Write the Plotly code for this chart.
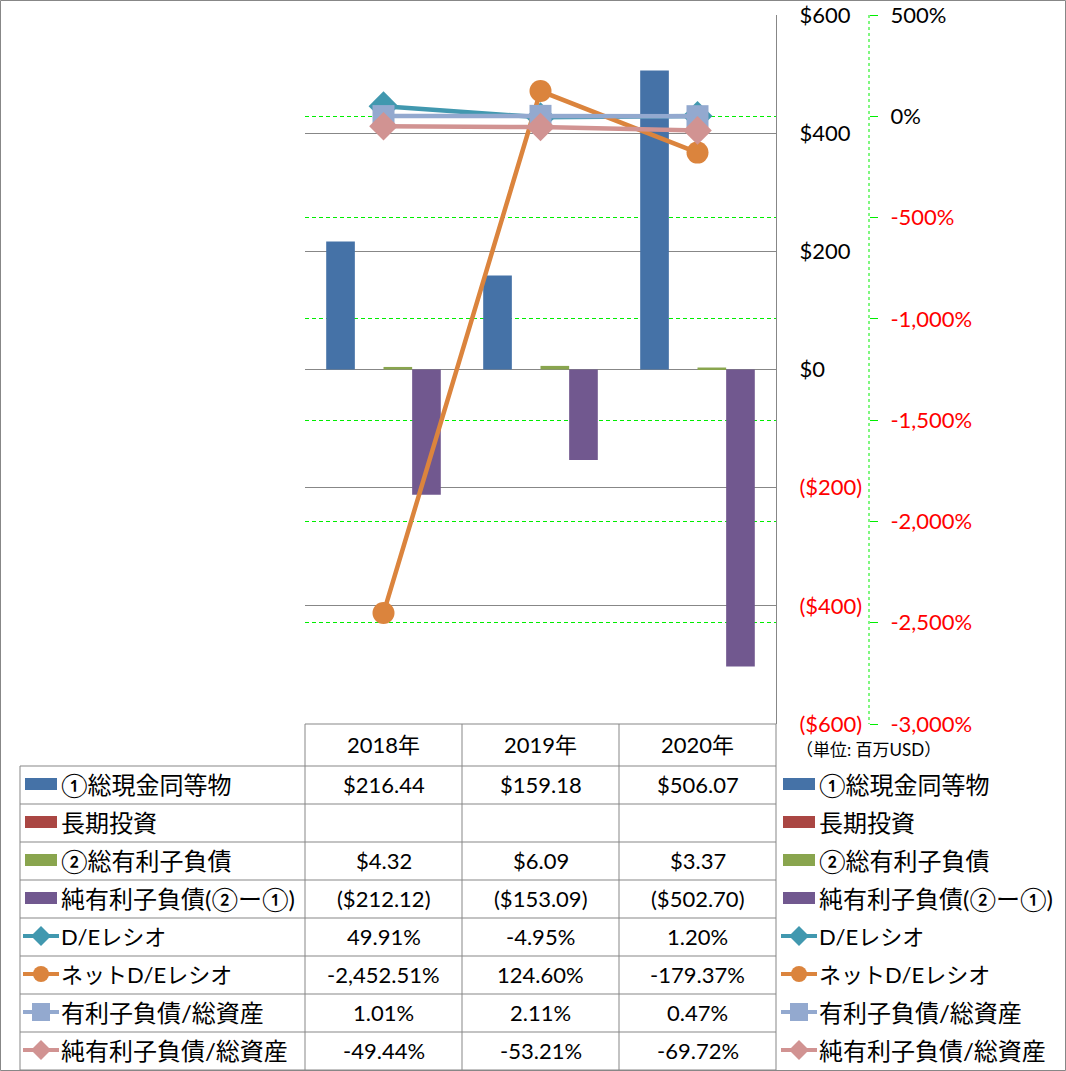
import plotly.graph_objects as go

W, H = 1066, 1071

# ---------------- data ----------------
years = ["2018年", "2019年", "2020年"]
cash = [216.44, 159.18, 506.07]
lt_invest = [None, None, None]
debt = [4.32, 6.09, 3.37]
net_debt = [-212.12, -153.09, -502.70]
de_ratio = [49.91, -4.95, 1.20]
net_de_ratio = [-2452.51, 124.60, -179.37]
debt_assets = [1.01, 2.11, 0.47]
net_debt_assets = [-49.44, -53.21, -69.72]

bar_names = ["①総現金同等物", "長期投資", "②総有利子負債", "純有利子負債(②ー①)"]
line_names = ["D/Eレシオ", "ネットD/Eレシオ", "有利子負債/総資産", "純有利子負債/総資産"]
usd_ticks = [-600, -400, -200, 0, 200, 400, 600]
pct_ticks = [-3000, -2500, -2000, -1500, -1000, -500, 0, 500]
unit_label = "（単位: 百万USD）"

# ---------------- styles ----------------
bar_colors = ["#4572A7", "#AA4643", "#89A54E", "#71588F"]
line_colors = ["#4198AF", "#DB843D", "#93A9CF", "#D19392"]
line_symbols = ["diamond", "circle", "square", "diamond"]
line_sizes = [23, 22, 22, 22]
label_sizes = [24, 24, 24, 24, 22, 22, 24, 24]
FONT = "Lato, 'Noto Sans CJK JP', sans-serif"
GRAY = "#878787"
RED = "#FF0000"


def fx(px):
    return px / W


def fy(py):
    return 1 - py / H


def fmt_usd(v, dec=2):
    if v is None:
        return ""
    s = f"${abs(v):,.{dec}f}"
    return f"({s})" if v < 0 else s


def fmt_pct(v, dec=2):
    return f"{v:,.{dec}f}%"


def red(t):
    return f'<span style="color:{RED}">{t}</span>'


usd_text = [red(fmt_usd(v, 0)) if v < 0 else fmt_usd(v, 0) for v in usd_ticks]
pct_text = [red(fmt_pct(v, 0)) if v < 0 else fmt_pct(v, 0) for v in pct_ticks]

fig = go.Figure()
bar_series = [cash, lt_invest, debt, net_debt]
for name, vals, col in zip(bar_names, bar_series, bar_colors):
    fig.add_trace(go.Bar(x=years, y=vals, name=name, marker=dict(color=col, line=dict(width=0)),
                         yaxis="y"))
line_series = [de_ratio, net_de_ratio, debt_assets, net_debt_assets]
for name, vals, col, sym, sz in zip(line_names, line_series, line_colors, line_symbols, line_sizes):
    fig.add_trace(go.Scatter(x=years, y=vals, name=name, mode="lines+markers", yaxis="y2",
                             line=dict(color=col, width=4.5),
                             marker=dict(symbol=sym, size=sz, color=col, line=dict(width=0)),
                             cliponaxis=False))

PX0, PX1, PY0, PY1 = 305, 776, 15, 724

fig.update_layout(
    width=W, height=H, margin=dict(l=0, r=0, t=0, b=0, autoexpand=False),
    paper_bgcolor="white", plot_bgcolor="rgba(0,0,0,0)",
    barmode="group", bargap=0.27, bargroupgap=0, showlegend=False,
    font=dict(family=FONT, size=22, color="black"),
    xaxis=dict(domain=[fx(PX0), fx(PX1)], showticklabels=False, showgrid=False, zeroline=False,
               showline=False, ticks="", automargin=False),
    yaxis=dict(domain=[fy(PY1), fy(PY0)], range=[-600, 600], side="right",
               tickvals=usd_ticks, ticktext=usd_text, showgrid=True, gridcolor=GRAY, gridwidth=1,
               zeroline=False, showline=True, linecolor=GRAY, linewidth=1, ticks="",
               ticklabelstandoff=18, automargin=False,
               tickfont=dict(family=FONT, size=22, color="black")),
    yaxis2=dict(overlaying="y", anchor="free", position=fx(869), side="right",
                range=[-3000, 500], tickvals=pct_ticks, ticktext=pct_text,
                showgrid=True, gridcolor="#00EE00", griddash="4px,3px", gridwidth=1,
                zeroline=False, showline=False, ticks="outside", ticklen=8, tickcolor="#00EE00",
                ticklabelstandoff=8, automargin=False,
                tickfont=dict(family=FONT, size=22, color="black")),
)

shapes = []
ann = []


def hline(y, x0, x1, color=GRAY, width=1):
    shapes.append(dict(type="line", xref="paper", yref="paper", x0=fx(x0), x1=fx(x1),
                       y0=fy(y), y1=fy(y), line=dict(color=color, width=width)))


def vline(x, y0, y1, color=GRAY, width=1, dash="solid"):
    shapes.append(dict(type="line", xref="paper", yref="paper", x0=fx(x), x1=fx(x),
                       y0=fy(y0), y1=fy(y1), line=dict(color=color, width=width, dash=dash)))


def text(x, y, t, anchor="center", size=22, color="black"):
    ann.append(dict(xref="paper", yref="paper", x=fx(x), y=fy(y), text=t, showarrow=False,
                    xanchor=anchor, yanchor="middle", font=dict(family=FONT, size=size, color=color)))


# outer border
shapes.append(dict(type="rect", xref="paper", yref="paper", x0=fx(0.5), x1=fx(W - 0.5),
                   y0=fy(0.5), y1=fy(H - 0.5), line=dict(color=GRAY, width=1)))

# secondary axis dotted line
vline(869, PY0, PY1, color="#00EE00", width=1, dash="dot")

# data table grid
col_x = [305, 462, 619, 776]
row_y = [766 + 38 * i for i in range(9)]
hline(724, 305, 776)
for y in row_y:
    hline(y, 20, 776)
vline(20, 766, 1070)
for x in col_x:
    vline(x, 724, 1070)

col_c = [(col_x[i] + col_x[i + 1]) / 2 for i in range(3)]
for c, yr in zip(col_c, years):
    text(c, 744, yr)

all_names = bar_names + line_names
row_vals = [[fmt_usd(v) for v in s] for s in bar_series] + \
           [[fmt_pct(v) for v in s] for s in line_series]
for i, (name, vals) in enumerate(zip(all_names, row_vals)):
    cy = row_y[i] + 18
    text(59, cy, name, anchor="left", size=label_sizes[i])
    text(817, cy, name, anchor="left", size=label_sizes[i])
    for c, v in zip(col_c, vals):
        text(c, cy, v)

text(794, 749, unit_label, anchor="left", size=17)


# legend keys
def key_bar(xc, cy, col):
    shapes.append(dict(type="rect", xref="paper", yref="paper", x0=fx(xc - 16), x1=fx(xc + 16),
                       y0=fy(cy - 6), y1=fy(cy + 6), fillcolor=col, line=dict(width=0)))


def key_line(xc, cy, col, sym):
    shapes.append(dict(type="line", xref="paper", yref="paper", x0=fx(xc - 18), x1=fx(xc + 18),
                       y0=fy(cy), y1=fy(cy), line=dict(color=col, width=4)))
    if sym == "diamond":
        path = (f"M {fx(xc - 10)} {fy(cy)} L {fx(xc)} {fy(cy - 10)} L {fx(xc + 10)} {fy(cy)} "
                f"L {fx(xc)} {fy(cy + 10)} Z")
        shapes.append(dict(type="path", xref="paper", yref="paper", path=path, fillcolor=col,
                           line=dict(width=0)))
    elif sym == "circle":
        shapes.append(dict(type="circle", xref="paper", yref="paper", x0=fx(xc - 8), x1=fx(xc + 8),
                           y0=fy(cy - 8), y1=fy(cy + 8), fillcolor=col, line=dict(width=0)))
    else:
        shapes.append(dict(type="rect", xref="paper", yref="paper", x0=fx(xc - 9), x1=fx(xc + 9),
                           y0=fy(cy - 9), y1=fy(cy + 9), fillcolor=col, line=dict(width=0)))


for i in range(4):
    cy = row_y[i] + 18
    key_bar(41, cy, bar_colors[i])
    key_bar(799, cy, bar_colors[i])
for j in range(4):
    cy = row_y[4 + j] + 18
    key_line(41, cy, line_colors[j], line_symbols[j])
    key_line(799, cy, line_colors[j], line_symbols[j])

fig.update_layout(shapes=shapes, annotations=ann)
fig.write_html("out.html")
